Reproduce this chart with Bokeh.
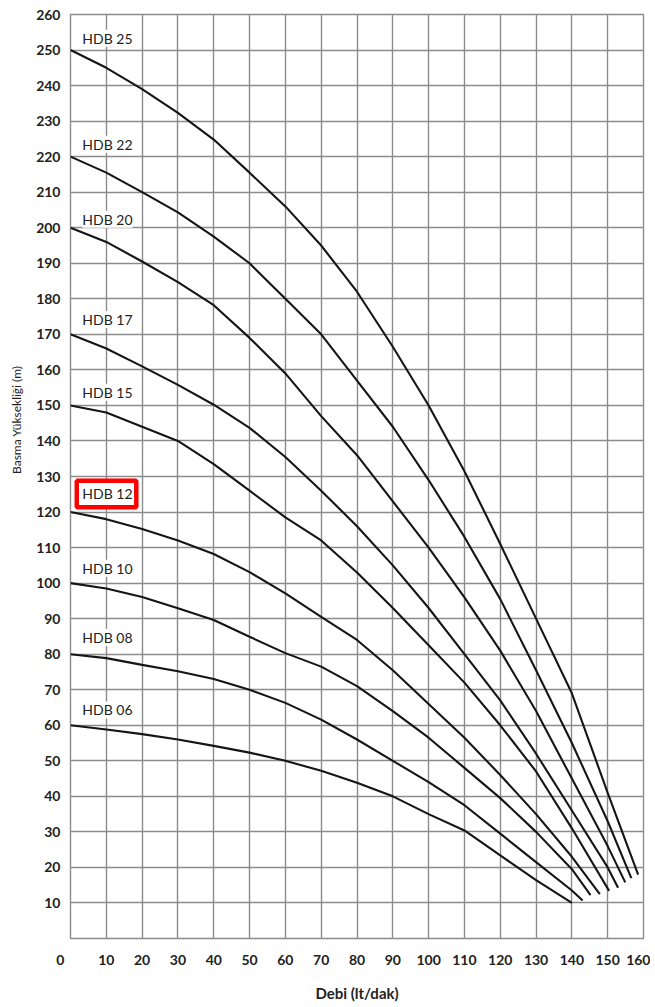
from bokeh.plotting import figure
from bokeh.models import FixedTicker, LabelSet, ColumnDataSource, BoxAnnotation, Title
from bokeh.core.properties import value
from bokeh.embed import file_html
from bokeh.resources import INLINE

# ---------------- data ----------------
x_ticks = list(range(0, 161, 10))
y_ticks = list(range(0, 261, 10))

models = ["HDB 25", "HDB 22", "HDB 20", "HDB 17", "HDB 15", "HDB 12", "HDB 10", "HDB 08", "HDB 06"]

q_25 = [0, 10, 20, 30, 40, 50, 60, 70, 80, 90, 100, 110, 120, 130, 140, 150, 158.5]
h_25 = [250, 245, 239, 232.3, 224.8, 215.5, 206, 195, 182, 166.5, 150, 131.5, 111, 90, 69, 41, 18]

q_22 = [0, 10, 20, 30, 40, 50, 60, 70, 80, 90, 100, 110, 120, 130, 140, 150, 156.6]
h_22 = [220, 215.5, 210, 204.3, 197.5, 190, 180, 170, 157, 144, 129, 113, 95.5, 75.5, 55, 33, 17]

q_20 = [0, 10, 20, 30, 40, 50, 60, 70, 80, 90, 100, 110, 120, 130, 140, 150, 154.9]
h_20 = [200, 196, 190.5, 184.7, 178.2, 169, 159, 147, 136, 123, 110, 96, 81, 64, 45, 26, 15.8]

q_17 = [0, 10, 20, 30, 40, 50, 60, 70, 80, 90, 100, 110, 120, 130, 140, 150, 152.9]
h_17 = [170, 166, 161, 155.8, 150.2, 143.7, 135.5, 126, 116, 105, 93, 80, 67, 52, 36, 20, 14.3]

q_15 = [0, 10, 20, 30, 40, 50, 60, 70, 80, 90, 100, 110, 120, 130, 140, 150.4]
h_15 = [150, 148, 144, 140, 133.5, 126, 118.5, 112, 103, 93, 82.5, 72, 60, 47, 31, 13.4]

q_12 = [0, 10, 20, 30, 40, 50, 60, 70, 80, 90, 100, 110, 120, 130, 140, 147.8]
h_12 = [120, 118, 115.2, 112, 108.2, 103.1, 97.1, 90.5, 84, 75.5, 66, 56.5, 46, 35, 23, 12.5]

q_10 = [0, 10, 20, 30, 40, 50, 60, 70, 80, 90, 100, 110, 120, 130, 140, 145.2]
h_10 = [100, 98.5, 96.1, 92.9, 89.6, 84.9, 80.3, 76.5, 71, 64, 56.5, 48, 39.5, 30, 19.5, 12.2]

q_08 = [0, 10, 20, 30, 40, 50, 60, 70, 80, 90, 100, 110, 120, 130, 140, 143]
h_08 = [80, 78.9, 77, 75.2, 73, 70, 66.3, 61.6, 56, 50, 44, 37.5, 29.5, 21.5, 13.5, 10.7]

q_06 = [0, 10, 20, 30, 40, 50, 60, 70, 80, 90, 100, 110, 120, 130, 140]
h_06 = [60, 58.8, 57.5, 56, 54.2, 52.3, 50, 47.2, 43.8, 40, 35, 30.4, 23.4, 16.4, 10]

curves_q = [q_25, q_22, q_20, q_17, q_15, q_12, q_10, q_08, q_06]
curves_h = [h_25, h_22, h_20, h_17, h_15, h_12, h_10, h_08, h_06]

# label anchor heights (data units)
label_y = [253.3, 223.5, 202.4, 174.2, 153.7, 125.2, 104.2, 84.7, 64.3]

# ---------------- figure ----------------
FONT = "Lato"
TXT = "#222222"
GRID = "#8c8c8c"

p = figure(width=650, height=1004, x_range=(0, 160), y_range=(0, 260),
           output_backend="svg", toolbar_location=None,
           min_border_left=70, min_border_right=7, min_border_top=14, min_border_bottom=60)

p.background_fill_color = "white"
p.border_fill_color = "white"
p.outline_line_color = GRID
p.outline_line_width = 1.4

p.xaxis.ticker = FixedTicker(ticks=x_ticks)
p.yaxis.ticker = FixedTicker(ticks=y_ticks)
p.yaxis.major_label_overrides = {0: ""}
p.xaxis.major_label_overrides = {0: "0\u00a0\u00a0\u00a0\u00a0\u00a0\u00a0"}
for ax in (p.xaxis, p.yaxis):
    ax.axis_line_color = None
    ax.major_tick_line_color = None
    ax.minor_tick_line_color = None
    ax.major_tick_out = 0
    ax.major_tick_in = 0
    ax.major_label_text_font = FONT
    ax.major_label_text_font_style = "bold"
    ax.major_label_text_font_size = "14px"
    ax.major_label_text_color = TXT
p.xaxis.major_label_standoff = 12
p.yaxis.major_label_standoff = 10

p.xaxis.axis_label = "Debi (lt/dak)"
p.xaxis.axis_label_standoff = 13
p.xaxis.axis_label_text_font = FONT
p.xaxis.axis_label_text_font_style = "bold"
p.xaxis.axis_label_text_font_size = "15px"
p.xaxis.axis_label_text_color = TXT

p.xgrid.grid_line_color = GRID
p.ygrid.grid_line_color = GRID
p.xgrid.grid_line_width = 1.4
p.ygrid.grid_line_width = 1.4

for q, h in zip(curves_q, curves_h):
    p.line(q, h, line_color="#151515", line_width=2.1)

# red highlight box around HDB 12
box = BoxAnnotation(left=1.75, right=18.37, bottom=121.37, top=128.78,
                    fill_color="white", fill_alpha=1.0,
                    line_color="#ff0000", line_alpha=1.0, line_width=4.5)
p.add_layout(box)

src = ColumnDataSource(dict(x=[3.3] * len(models), y=label_y, text=models))
labels = LabelSet(x="x", y="y", text="text", source=src,
                  text_font=value(FONT), text_font_size=value("14px"),
                  text_color=TXT, text_baseline="middle", text_align="left",
                  background_fill_color="white")
p.add_layout(labels)

# y axis title (placed along the upper part of the axis, like the original)
yt = Title(text="Basma Yüksekliği (m)", align="right", offset=351, standoff=16,
           vertical_align="top",
           text_font=FONT, text_font_style="normal", text_font_size="12px",
           text_color=TXT)
p.add_layout(yt, "left")

open("out.html", "w").write(file_html(p, INLINE))
